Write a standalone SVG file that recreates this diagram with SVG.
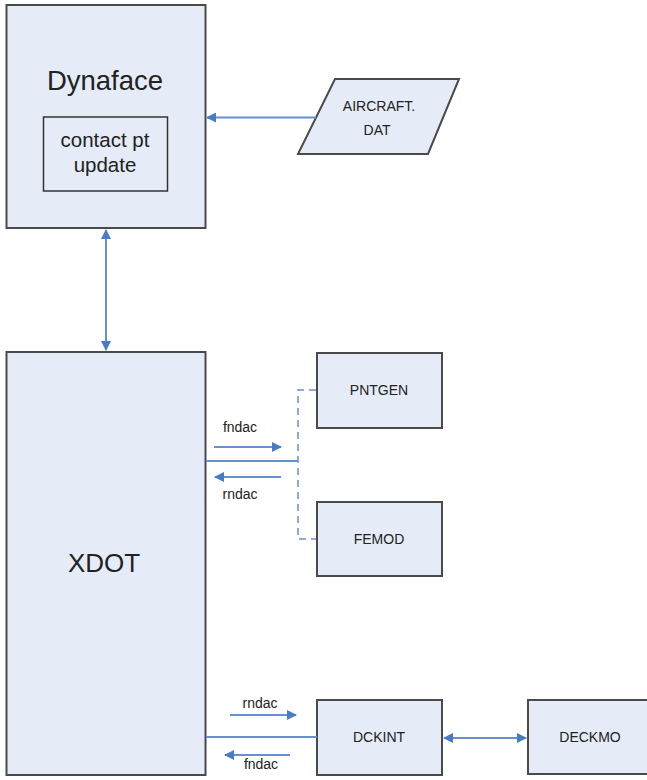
<svg xmlns="http://www.w3.org/2000/svg" width="647" height="780" viewBox="0 0 647 780">
<style>
.box{fill:#E5ECF7;stroke:#4a4a4a;stroke-width:2}
.inner{fill:none;stroke:#333;stroke-width:1.5}
.t{font-family:"Liberation Sans",Arial,sans-serif;fill:#222;text-anchor:middle}
.s{font-size:14px}
.c{stroke:#6690D0;stroke-width:2;fill:none}
.d{stroke:#6690D0;stroke-width:1.5;fill:none;stroke-dasharray:7,5}
</style>
<defs>
<marker id="ah" viewBox="0 0 10 10" refX="9" refY="5" markerWidth="5" markerHeight="5" orient="auto-start-reverse" markerUnits="strokeWidth">
<path d="M0,0 L10,5 L0,10 z" fill="#4A7CC6"/>
</marker>
</defs>
<rect width="647" height="780" fill="#fff"/>
<g id="dynaface">
<rect class="box" x="6.5" y="5" width="199" height="223"/>
<text class="t" x="105" y="90" font-size="27.5">Dynaface</text>
<rect class="inner" x="43.5" y="117" width="124" height="74"/>
<text class="t" x="105" y="147" font-size="20.5">contact pt</text>
<text class="t" x="105" y="172" font-size="20.5">update</text>
</g>
<g id="aircraft">
<polygon class="box" points="335,79 459,79 428,154 298,154" stroke-width="1.5"/>
<text class="t s" x="379" y="111">AIRCRAFT.</text>
<text class="t s" x="377" y="135">DAT</text>
</g>
<g id="xdot">
<rect class="box" x="6.5" y="352" width="199" height="423"/>
<text class="t" x="104" y="572" font-size="26">XDOT</text>
</g>
<g id="pntgen">
<rect class="box" x="317" y="353" width="125" height="75"/>
<text class="t s" x="379" y="395">PNTGEN</text>
</g>
<g id="femod">
<rect class="box" x="317" y="502" width="125" height="74"/>
<text class="t s" x="379" y="544">FEMOD</text>
</g>
<g id="dckint">
<rect class="box" x="317" y="700" width="125" height="75"/>
<text class="t s" x="379" y="742">DCKINT</text>
</g>
<g id="deckmo">
<rect class="box" x="528" y="700" width="130" height="74"/>
<text class="t s" x="590" y="742">DECKMO</text>
</g>
<g id="connectors">
<line class="c" x1="316" y1="117.5" x2="207" y2="117.5" marker-end="url(#ah)"/>
<line class="c" x1="106" y1="230" x2="106" y2="350" marker-start="url(#ah)" marker-end="url(#ah)"/>
<line class="c" x1="206" y1="461" x2="298" y2="461" stroke-width="1.5"/>
<path class="d" d="M316,390 H298 V539 H316"/>
<line class="c" x1="214" y1="447" x2="281" y2="447" marker-end="url(#ah)"/>
<line class="c" x1="281" y1="477" x2="215" y2="477" marker-end="url(#ah)"/>
<text class="t s" x="240" y="432">fndac</text>
<text class="t s" x="240" y="499">rndac</text>
<line class="c" x1="206" y1="737" x2="317" y2="737" stroke-width="1.5"/>
<line class="c" x1="444" y1="738" x2="526" y2="738" marker-start="url(#ah)" marker-end="url(#ah)"/>
<line class="c" x1="230" y1="715" x2="296" y2="715" marker-end="url(#ah)"/>
<line class="c" x1="290" y1="755" x2="225" y2="755" marker-end="url(#ah)"/>
<text class="t s" x="260" y="708">rndac</text>
<text class="t s" x="261" y="769">fndac</text>
</g>
</svg>
